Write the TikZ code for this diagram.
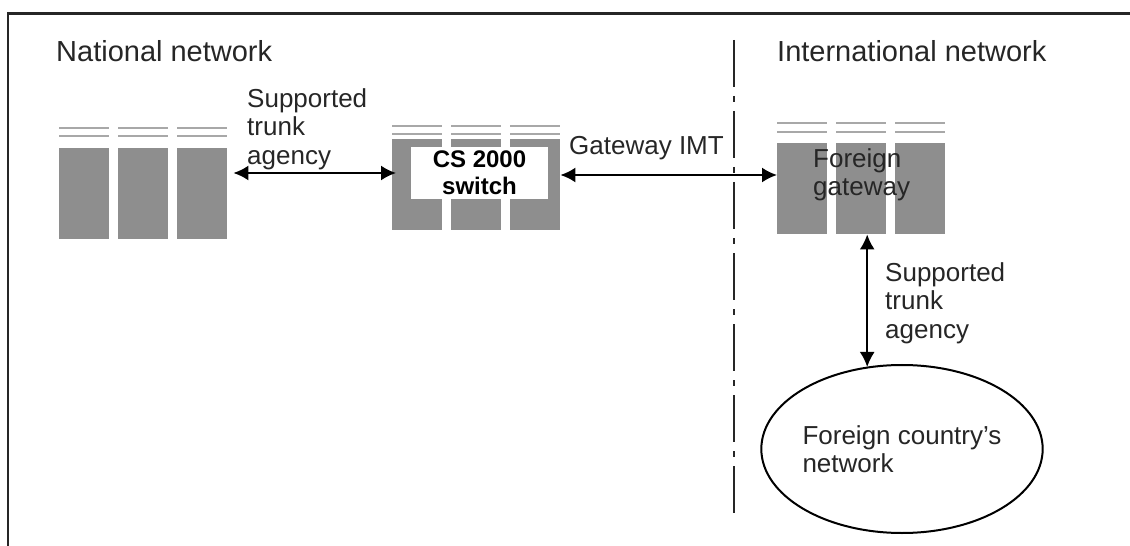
\documentclass[tikz,border=0pt]{standalone}
\usepackage{fontspec}
\setmainfont{Liberation Sans}
\usepackage{tikz}
\usetikzlibrary{shapes, calc, arrows.meta}

\definecolor{colgrey}{HTML}{8E8E8E}
\definecolor{railgrey}{HTML}{A8A8A8}
\definecolor{inkgrey}{HTML}{262626}

\tikzset{
	unitcol/.style={rectangle, fill=colgrey, minimum width=50bp, minimum height=91bp, inner sep=0pt, anchor=north west},
	rail/.style={railgrey, line width=2.5bp},
	netlabel/.style={text=inkgrey, font=\fontsize{26bp}{28.5bp}\selectfont, inner sep=0pt, align=left},
	title/.style={netlabel, font=\fontsize{29bp}{31bp}\selectfont, anchor=base west},
	trunkarrow/.style={<->, >={Latex[length=15bp, width=15bp]}, line width=2bp, black},
}

\begin{document}
\begin{tikzpicture}[x=1bp, y=-1bp]
	\useasboundingbox (0,0) rectangle (1130,546);

	% frame
	\draw[inkgrey, line width=3bp] (7,13.5) -- (1130,13.5);
	\draw[inkgrey, line width=2bp] (8,12) -- (8,546);

	\node[title] (national) at (56,62) {National network};
	\node[title] (international) at (777,62) {International network};

	\draw[inkgrey, line width=2bp, dash pattern=on 47bp off 9bp on 6bp off 9bp]
		(734,40) -- (734,513);

	% switch frames
	\foreach \i/\x in {1/59, 2/118, 3/177} {
		\node[unitcol] (nat\i) at (\x,148) {};
		\draw[rail] (\x,128) -- ++(50,0);
		\draw[rail] (\x,136) -- ++(50,0);
	}
	\foreach \i/\x in {1/392, 2/451, 3/510} {
		\node[unitcol] (cs\i) at (\x,139) {};
		\draw[rail] (\x,126) -- ++(50,0);
		\draw[rail] (\x,134) -- ++(50,0);
	}
	\foreach \i/\x in {1/777, 2/836, 3/895} {
		\node[unitcol] (fgw\i) at (\x,143) {};
		\draw[rail] (\x,123) -- ++(50,0);
		\draw[rail] (\x,132) -- ++(50,0);
	}

	\node[fill=white, minimum width=137bp, minimum height=52bp, inner sep=0pt, align=center,
		font=\bfseries\fontsize{24bp}{27bp}\selectfont] (switch) at (479.5,173)
		{CS 2000\\switch};
	\node[netlabel, anchor=north west] (fgwtext) at (813,148)
		{Foreign\\gateway};
	\node[draw, ellipse, line width=2bp, minimum width=248bp, minimum height=168bp,
		netlabel, text=inkgrey] (foreignnet) at (902,449)
		{Foreign country's\\network};

	\node[netlabel, anchor=north west] (trunknat) at (247,88)
		{Supported\\trunk\\agency};
	\node[netlabel, anchor=base west] (imt) at (569,155)
		{Gateway IMT};
	\node[netlabel, anchor=north west] (trunkintl) at (885,262)
		{Supported\\trunk\\agency};

	\draw[trunkarrow] ([xshift=6bp]nat3.east |- switch.center) -- ([xshift=4bp]cs1.west |- switch.center);
	\draw[trunkarrow] ([yshift=-2bp]cs3.east |- switch.center) -- ([yshift=-2bp]fgw1.west |- switch.center);
	\draw[trunkarrow] ([xshift=6bp]fgw2.south) -- ([xshift=6bp, yshift=-3bp]fgw2.south |- foreignnet.north);
\end{tikzpicture}
\end{document}
